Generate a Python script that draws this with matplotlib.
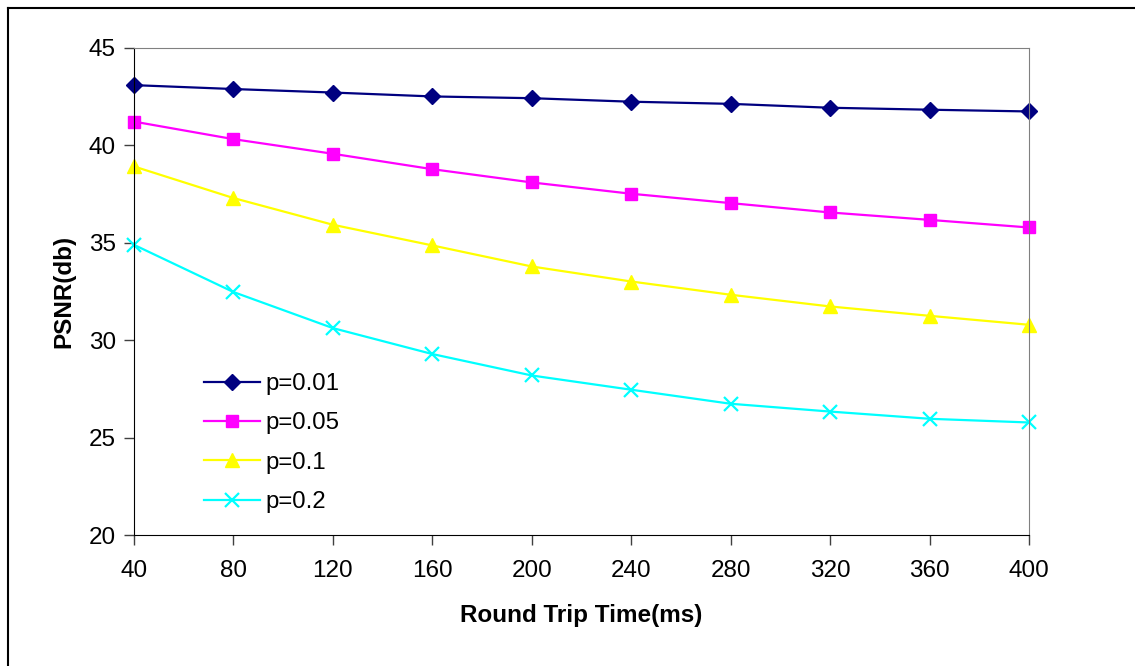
import matplotlib
matplotlib.use('Agg')
import matplotlib.pyplot as plt
from matplotlib.lines import Line2D

plt.rcParams['font.family'] = ['Liberation Sans', 'DejaVu Sans']

rtt = [40, 80, 120, 160, 200, 240, 280, 320, 360, 400]
psnr_001 = [43.07, 42.87, 42.69, 42.49, 42.40, 42.22, 42.11, 41.91, 41.81, 41.72]
psnr_005 = [41.20, 40.30, 39.55, 38.76, 38.08, 37.50, 37.02, 36.54, 36.16, 35.77]
psnr_01 = [38.90, 37.28, 35.91, 34.85, 33.77, 33.00, 32.32, 31.72, 31.24, 30.78]
psnr_02 = [34.88, 32.46, 30.61, 29.28, 28.18, 27.45, 26.73, 26.33, 25.96, 25.77]
labels = ['p=0.01', 'p=0.05', 'p=0.1', 'p=0.2']

fig = plt.figure(figsize=(11.35, 6.66), dpi=100)
ax = fig.add_axes([134 / 1135, 1 - 535 / 666, (1029 - 134) / 1135, (535 - 47.5) / 666])

# 外框（只看得到左边和上边）
fig.add_artist(Line2D([8 / 1135, 8 / 1135], [0, 1 - 8 / 666], color='black', lw=1.5))
fig.add_artist(Line2D([8 / 1135, 1], [1 - 8 / 666, 1 - 8 / 666], color='black', lw=1.5))

ax.plot(rtt, psnr_001, color='#000080', marker='D', markersize=8.5, lw=1.6, label=labels[0])
ax.plot(rtt, psnr_005, color='#FF00FF', marker='s', markersize=8.5, lw=1.6, label=labels[1])
ax.plot(rtt, psnr_01, color='#FFFF00', marker='^', markersize=9.5, lw=1.6, label=labels[2])
ax.plot(rtt, psnr_02, color='#00FFFF', marker='x', markersize=9.5, mew=1.6, lw=1.6, label=labels[3])

ax.set_xlim(40, 400)
ax.set_ylim(20, 45)
ax.set_xticks(rtt)
ax.set_yticks([20, 25, 30, 35, 40, 45])
ax.tick_params(direction='out', length=7, width=1, colors='#404040', labelcolor='black',
               labelsize=17.5)
ax.tick_params(axis='x', pad=11)
ax.tick_params(axis='y', pad=6)
ax.spines['top'].set_color('#808080')
ax.spines['right'].set_color('#808080')
ax.spines['left'].set_color('black')
ax.spines['bottom'].set_color('black')
for ln in ax.lines:
    ln.set_clip_on(False)

ax.set_xlabel('Round Trip Time(ms)', fontsize=17.5, fontweight='bold', labelpad=16)
ax.set_ylabel('PSNR(db)', fontsize=17.5, fontweight='bold', labelpad=10)

ax.legend(loc='upper left', bbox_to_anchor=(0.068, 0.352), frameon=False, fontsize=17.3,
          handlelength=2.3, handletextpad=0.25, labelspacing=0.72, borderaxespad=0)

fig.savefig('out.png', dpi=100)
